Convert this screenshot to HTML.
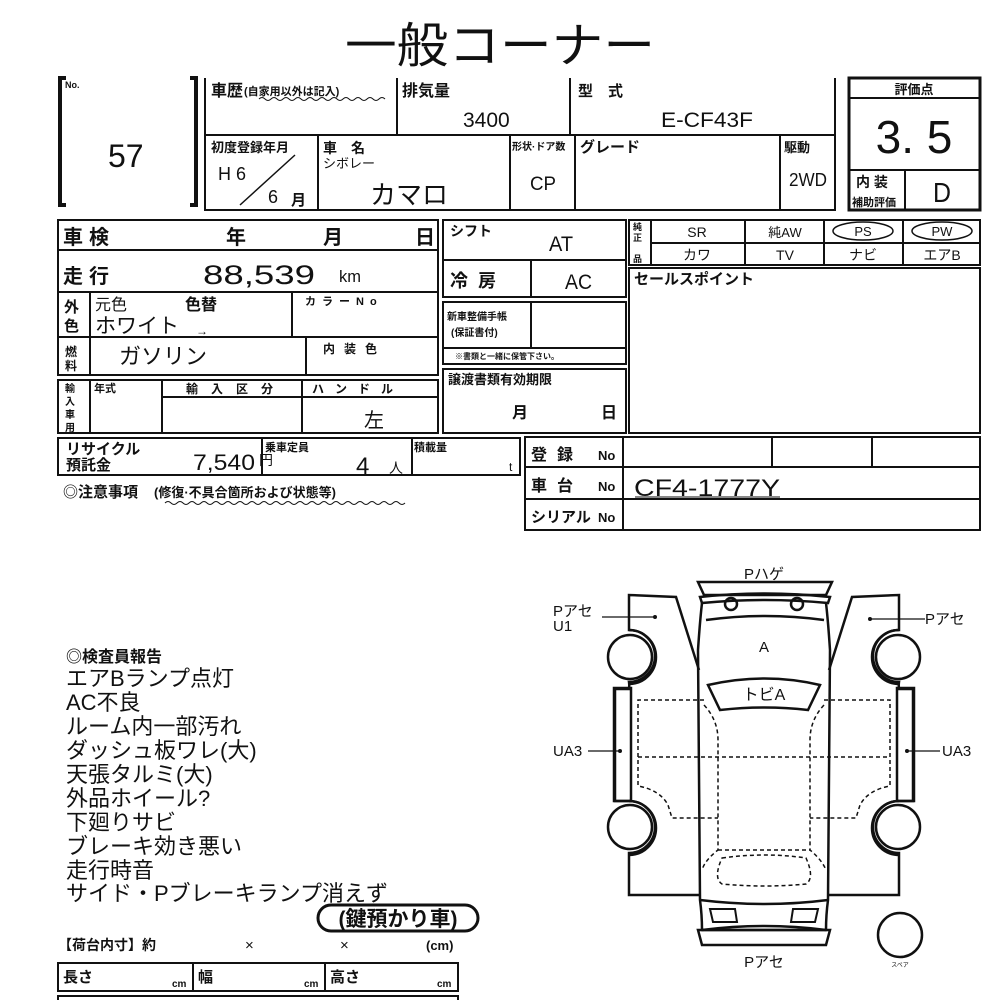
<!DOCTYPE html>
<html><head><meta charset="utf-8"><style>
html,body{margin:0;padding:0;background:#fff;}
svg{display:block}
text{font-family:"Liberation Sans","Noto Sans CJK JP",sans-serif;fill:#111}
.b{font-weight:bold}
</style></head><body>
<svg width="1000" height="1000" viewBox="0 0 1000 1000" xmlns="http://www.w3.org/2000/svg">
<g stroke="#111" fill="none" stroke-width="2">
<path d="M66 78 H60 V205 H66" stroke-width="4"/>
<path d="M190 78 H196 V205 H190" stroke-width="4"/>
<path d="M205 78 V210 H835 V78"/>
<line x1="205" y1="135" x2="835" y2="135"/>
<line x1="397" y1="78" x2="397" y2="135"/>
<line x1="570" y1="78" x2="570" y2="135"/>
<line x1="318" y1="135" x2="318" y2="210"/>
<line x1="510" y1="135" x2="510" y2="210"/>
<line x1="575" y1="135" x2="575" y2="210"/>
<line x1="780" y1="135" x2="780" y2="210"/>
<line x1="240" y1="205" x2="295" y2="155" stroke-width="1.5"/>
<rect x="849" y="78" width="131" height="132" stroke-width="3"/>
<line x1="849" y1="98" x2="980" y2="98"/>
<line x1="849" y1="170" x2="980" y2="170"/>
<line x1="905" y1="170" x2="905" y2="210"/>
<rect x="58" y="220" width="380" height="155"/>
<line x1="58" y1="250" x2="438" y2="250"/>
<line x1="58" y1="292" x2="438" y2="292"/>
<line x1="58" y1="337" x2="438" y2="337"/>
<line x1="90" y1="292" x2="90" y2="375"/>
<line x1="292" y1="292" x2="292" y2="337"/>
<line x1="306" y1="337" x2="306" y2="375"/>
<rect x="58" y="380" width="380" height="53"/>
<line x1="90" y1="380" x2="90" y2="433"/>
<line x1="162" y1="380" x2="162" y2="433"/>
<line x1="302" y1="380" x2="302" y2="433"/>
<line x1="162" y1="397" x2="438" y2="397"/>
<rect x="443" y="220" width="183" height="77"/>
<line x1="443" y1="260" x2="626" y2="260"/>
<line x1="531" y1="260" x2="531" y2="297"/>
<rect x="443" y="302" width="183" height="62"/>
<line x1="531" y1="302" x2="531" y2="348"/>
<line x1="443" y1="348" x2="626" y2="348"/>
<rect x="443" y="369" width="183" height="64"/>
<rect x="629" y="220" width="351" height="45"/>
<line x1="651" y1="243" x2="980" y2="243"/>
<line x1="651" y1="220" x2="651" y2="265"/>
<line x1="745" y1="220" x2="745" y2="265"/>
<line x1="824" y1="220" x2="824" y2="265"/>
<line x1="903" y1="220" x2="903" y2="265"/>
<ellipse cx="863" cy="231" rx="30" ry="9" stroke-width="1.5"/>
<ellipse cx="942" cy="231" rx="30" ry="9" stroke-width="1.5"/>
<rect x="629" y="268" width="351" height="165"/>
<rect x="58" y="438" width="462" height="37"/>
<line x1="262" y1="438" x2="262" y2="475"/>
<line x1="412" y1="438" x2="412" y2="475"/>
<path d="M165 503 q3 -3 6 0 t6 0 t6 0 t6 0 t6 0 t6 0 t6 0 t6 0 t6 0 t6 0 t6 0 t6 0 t6 0 t6 0 t6 0 t6 0 t6 0 t6 0 t6 0 t6 0 t6 0 t6 0 t6 0 t6 0 t6 0 t6 0 t6 0 t6 0 t6 0 t6 0 t6 0 t6 0 t6 0 t6 0 t6 0 t6 0 t6 0 t6 0 t6 0 t6 0" stroke-width="1"/>
<path d="M259 99 q3 -3 6 0 t6 0 t6 0 t6 0 t6 0 t6 0 t6 0 t6 0 t6 0 t6 0 t6 0 t6 0 t6 0 t6 0 t6 0 t6 0 t6 0 t6 0 t6 0 t6 0 t6 0" stroke-width="1"/>
<rect x="525" y="437" width="455" height="93"/>
<line x1="525" y1="467" x2="980" y2="467"/>
<line x1="525" y1="499" x2="980" y2="499"/>
<line x1="623" y1="437" x2="623" y2="530"/>
<line x1="772" y1="437" x2="772" y2="467"/>
<line x1="872" y1="437" x2="872" y2="467"/>
<line x1="635" y1="497" x2="780" y2="497" stroke-width="1"/>

<g stroke-width="2.5">
<path d="M698 582 H832 L826 595 H704 Z"/>
<path d="M700 597 Q765 590 830 597 L828 603 Q765 597 702 603 Z"/>
<circle cx="731" cy="604" r="6"/><circle cx="797" cy="604" r="6"/>
<path d="M702 603 Q700 620 698 650 L700 900 Q702 915 702 930 H826 Q826 915 828 900 L830 650 Q828 620 826 603"/>
<path d="M706 620 Q765 612 824 620"/>
<path d="M708 685 Q765 672 820 685 L808 710 Q765 705 720 710 Z"/>
<path d="M700 900 Q765 908 828 900"/>
<path d="M698 930 H830 L826 945 H702 Z"/>
<path d="M702 930 Q765 922 826 930"/>
<path d="M713 922 L710 909 H735 L737 922 Z" stroke-width="2"/>
<path d="M815 922 L818 909 H793 L791 922 Z" stroke-width="2"/>
<path d="M700 895 H629 V853 A26 26 0 0 0 629 801 L615 801 V689 H629 A26 26 0 0 0 629 682 A26 26 0 0 0 629 630 V595 L676 597 L699 670"/>
<rect x="614" y="688" width="17" height="113"/>
<circle cx="630" cy="657" r="22"/><circle cx="630" cy="827" r="22"/>
<path d="M629 630 A27 27 0 0 1 629 684" />
<path d="M629 801 A27 27 0 0 1 629 855" />
<path d="M828 895 H899 V853 A26 26 0 0 1 899 801 L913 801 V689 H899 A26 26 0 0 1 899 682 A26 26 0 0 1 899 630 V595 L852 597 L829 670"/>
<rect x="897" y="688" width="17" height="113"/>
<circle cx="898" cy="657" r="22"/><circle cx="898" cy="827" r="22"/>
<path d="M899 630 A27 27 0 0 0 899 684" />
<path d="M899 801 A27 27 0 0 0 899 855" />
<circle cx="900" cy="935" r="22"/>
</g>
<g stroke-width="1.5" stroke-dasharray="4 3">
<path d="M704 700 H638 V786 Q660 790 668 805 L672 818 H718"/>
<path d="M638 757 H890"/>
<path d="M824 700 H890 V786 Q868 790 860 805 L856 818 H810"/>
<path d="M704 705 Q718 720 718 740 V850 Q705 860 702 870"/>
<path d="M824 705 Q810 720 810 740 V850 Q822 860 826 870"/>
<path d="M718 850 H810"/>
<path d="M722 858 Q765 852 806 858 Q815 878 806 884 Q765 888 722 884 Q713 878 722 858Z"/>
</g>
<g stroke-width="1.2">
<line x1="602" y1="617" x2="655" y2="617"/>
<line x1="870" y1="619" x2="925" y2="619"/>
<line x1="588" y1="751" x2="620" y2="751"/>
<line x1="907" y1="751" x2="940" y2="751"/>
</g>
<g fill="#111" stroke="none">
<circle cx="655" cy="617" r="2"/><circle cx="870" cy="619" r="2"/>
<circle cx="620" cy="751" r="2"/><circle cx="907" cy="751" r="2"/>
</g>
<rect x="318" y="905" width="160" height="26" rx="13" stroke-width="3"/>
<rect x="58" y="963" width="400" height="28"/>
<line x1="193" y1="963" x2="193" y2="991"/>
<line x1="325" y1="963" x2="325" y2="991"/>
<path d="M58 1000 V996 H458 V1000"/>
</g>

<text x="500" y="62" font-size="48" text-anchor="middle" textLength="310" lengthAdjust="spacingAndGlyphs">一般コーナー</text>
<text x="65" y="88" font-size="9" class="b">No.</text>
<text x="108" y="167" font-size="32">57</text>

<text x="211" y="96" font-size="16" class="b">車歴</text>
<text x="244" y="95" font-size="11" class="b">(自家用以外は記入)</text>
<text x="402" y="96" font-size="16" class="b">排気量</text>
<text x="463" y="127" font-size="21">3400</text>
<text x="578" y="96" font-size="15" class="b">型　式</text>
<text x="661" y="127" font-size="21" textLength="92" lengthAdjust="spacingAndGlyphs">E-CF43F</text>

<text x="211" y="152" font-size="13" class="b">初度登録年月</text>
<text x="218" y="180" font-size="18">H 6</text>
<text x="268" y="203" font-size="18">6</text>
<text x="291" y="205" font-size="15" class="b">月</text>
<text x="323" y="153" font-size="14" class="b">車　名</text>
<text x="323" y="168" font-size="13">シボレー</text>
<text x="370" y="204" font-size="26">カマロ</text>
<text x="512" y="150" font-size="10" class="b">形状·ドア数</text>
<text x="530" y="190" font-size="19" textLength="26" lengthAdjust="spacingAndGlyphs">CP</text>
<text x="580" y="152" font-size="15" class="b">グレード</text>
<text x="784" y="152" font-size="13" class="b">駆動</text>
<text x="789" y="186" font-size="18" textLength="38" lengthAdjust="spacingAndGlyphs">2WD</text>

<text x="914" y="94" font-size="13" text-anchor="middle" class="b">評価点</text>
<text x="914" y="153" font-size="46" text-anchor="middle">3. 5</text>
<text x="856" y="187" font-size="14" class="b">内 装</text>
<text x="852" y="206" font-size="11" class="b">補助評価</text>
<text x="942" y="202" font-size="28" text-anchor="middle" textLength="18" lengthAdjust="spacingAndGlyphs">D</text>

<text x="63" y="244" font-size="20" class="b" letter-spacing="6">車検</text>
<text x="226" y="244" font-size="20" class="b">年</text>
<text x="323" y="244" font-size="20" class="b">月</text>
<text x="415" y="244" font-size="20" class="b">日</text>
<text x="63" y="283" font-size="20" class="b" letter-spacing="6">走行</text>
<text x="203" y="284" font-size="27" textLength="112" lengthAdjust="spacingAndGlyphs">88,539</text>
<text x="339" y="282" font-size="17" textLength="22" lengthAdjust="spacingAndGlyphs">km</text>
<text x="64" y="312" font-size="15" class="b">外</text>
<text x="64" y="331" font-size="15" class="b">色</text>
<text x="95" y="310" font-size="16">元色</text>
<text x="185" y="310" font-size="16" class="b">色替</text>
<text x="95" y="333" font-size="21">ホワイト</text>
<text x="196" y="335" font-size="12">→</text>
<text x="305" y="305" font-size="11" class="b" letter-spacing="6">カラーNo</text>
<text x="65" y="356" font-size="12" class="b">燃</text>
<text x="65" y="370" font-size="12" class="b">料</text>
<text x="119" y="364" font-size="22">ガソリン</text>
<text x="323" y="353" font-size="12" class="b" letter-spacing="9">内装色</text>
<text x="65" y="392" font-size="10" class="b">輸</text>
<text x="65" y="405" font-size="10" class="b">入</text>
<text x="65" y="418" font-size="10" class="b">車</text>
<text x="65" y="431" font-size="10" class="b">用</text>
<text x="94" y="392" font-size="11" class="b">年式</text>
<text x="186" y="393" font-size="12" class="b" letter-spacing="13">輸入区分</text>
<text x="312" y="393" font-size="12" class="b" letter-spacing="11">ハンドル</text>
<text x="364" y="427" font-size="20">左</text>

<text x="450" y="236" font-size="14" class="b">シフト</text>
<text x="549" y="251" font-size="21" textLength="24" lengthAdjust="spacingAndGlyphs">AT</text>
<text x="450" y="287" font-size="18" class="b" letter-spacing="10">冷房</text>
<text x="565" y="289" font-size="21" textLength="27" lengthAdjust="spacingAndGlyphs">AC</text>
<text x="447" y="320" font-size="10" class="b">新車整備手帳</text>
<text x="451" y="336" font-size="10" class="b">(保証書付)</text>
<text x="455" y="359" font-size="8" class="b">※書類と一緒に保管下さい。</text>
<text x="448" y="384" font-size="13" class="b">譲渡書類有効期限</text>
<text x="512" y="418" font-size="16" class="b">月</text>
<text x="601" y="418" font-size="16" class="b">日</text>

<text x="633" y="230" font-size="9" class="b">純</text>
<text x="633" y="241" font-size="9" class="b">正</text>
<text x="633" y="262" font-size="9" class="b">品</text>
<text x="697" y="237" font-size="14" text-anchor="middle">SR</text>
<text x="785" y="237" font-size="13" text-anchor="middle">純AW</text>
<text x="863" y="236" font-size="13" text-anchor="middle">PS</text>
<text x="942" y="236" font-size="13" text-anchor="middle">PW</text>
<text x="697" y="260" font-size="14" text-anchor="middle">カワ</text>
<text x="785" y="260" font-size="14" text-anchor="middle">TV</text>
<text x="863" y="260" font-size="14" text-anchor="middle">ナビ</text>
<text x="942" y="260" font-size="14" text-anchor="middle">エアB</text>
<text x="634" y="284" font-size="15" class="b">セールスポイント</text>

<text x="66" y="454" font-size="15" class="b">リサイクル</text>
<text x="66" y="470" font-size="15" class="b">預託金</text>
<text x="193" y="470" font-size="22" textLength="62" lengthAdjust="spacingAndGlyphs">7,540</text>
<text x="259" y="465" font-size="14">円</text>
<text x="265" y="451" font-size="11" class="b">乗車定員</text>
<text x="356" y="474" font-size="24">4</text>
<text x="389" y="473" font-size="14">人</text>
<text x="414" y="451" font-size="11" class="b">積載量</text>
<text x="509" y="471" font-size="12">t</text>
<text x="63" y="497" font-size="15" class="b">◎注意事項</text>
<text x="154" y="497" font-size="13" class="b">(修復·不具合箇所および状態等)</text>
<text x="531" y="460" font-size="16" class="b" letter-spacing="10">登録</text>
<text x="598" y="460" font-size="13" class="b">No</text>
<text x="531" y="491" font-size="16" class="b" letter-spacing="10">車台</text>
<text x="598" y="491" font-size="13" class="b">No</text>
<text x="531" y="522" font-size="15" class="b">シリアル</text>
<text x="598" y="522" font-size="13" class="b">No</text>
<text x="634" y="496" font-size="24" textLength="146" lengthAdjust="spacingAndGlyphs">CF4-1777Y</text>

<text x="764" y="579" font-size="15" text-anchor="middle">Pハゲ</text>
<text x="553" y="616" font-size="15">Pアセ</text>
<text x="553" y="631" font-size="15">U1</text>
<text x="925" y="624" font-size="15">Pアセ</text>
<text x="764" y="652" font-size="15" text-anchor="middle">A</text>
<text x="764" y="700" font-size="16" text-anchor="middle">トビA</text>
<text x="553" y="756" font-size="15">UA3</text>
<text x="942" y="756" font-size="15">UA3</text>
<text x="764" y="967" font-size="15" text-anchor="middle">Pアセ</text>
<text x="900" y="967" font-size="6" text-anchor="middle">スペア</text>

<g font-size="22">
<text x="66" y="662" font-size="16" class="b">◎検査員報告</text>
<text x="66" y="686">エアBランプ点灯</text>
<text x="66" y="710">AC不良</text>
<text x="66" y="734">ルーム内一部汚れ</text>
<text x="66" y="758">ダッシュ板ワレ(大)</text>
<text x="66" y="782">天張タルミ(大)</text>
<text x="66" y="806">外品ホイール?</text>
<text x="66" y="830">下廻りサビ</text>
<text x="66" y="854">ブレーキ効き悪い</text>
<text x="66" y="878">走行時音</text>
<text x="66" y="901">サイド・Pブレーキランプ消えず</text>
</g>
<text x="398" y="926" font-size="21" class="b" text-anchor="middle">(鍵預かり車)</text>
<text x="58" y="950" font-size="14" class="b">【荷台内寸】約</text>
<text x="245" y="950" font-size="15">×</text>
<text x="340" y="950" font-size="15">×</text>
<text x="426" y="950" font-size="13" class="b">(cm)</text>
<text x="63" y="982" font-size="15" class="b">長さ</text>
<text x="172" y="987" font-size="10" class="b">cm</text>
<text x="198" y="982" font-size="15" class="b">幅</text>
<text x="304" y="987" font-size="10" class="b">cm</text>
<text x="330" y="982" font-size="15" class="b">高さ</text>
<text x="437" y="987" font-size="10" class="b">cm</text>
</svg>
</body></html>
